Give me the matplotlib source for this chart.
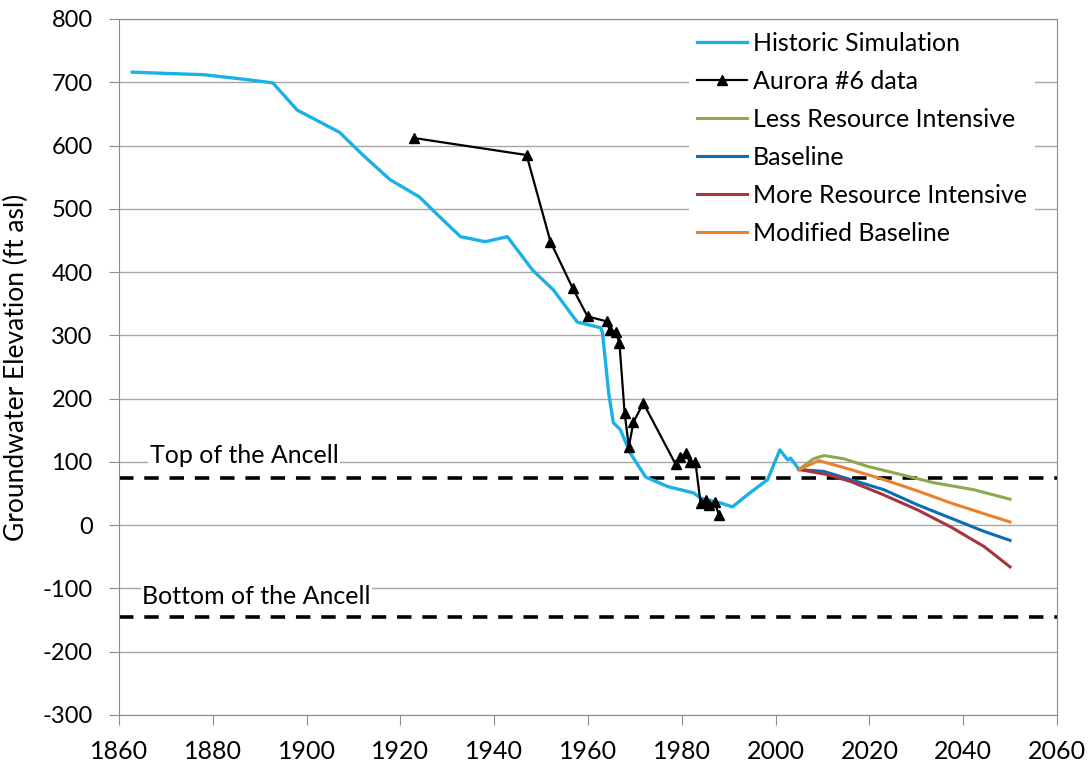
import matplotlib
matplotlib.use("Agg")
import matplotlib.pyplot as plt
import numpy as np

plt.rcParams['font.family'] = ['Lato', 'DejaVu Sans']
plt.rcParams['axes.unicode_minus'] = False

# historic simulation (year, ft asl)
hist_year = [1862.8, 1870, 1878, 1886.4, 1892.8, 1898, 1907, 1912, 1917.8, 1924, 1928,
             1932.8, 1938.1, 1942.8, 1948.2, 1952.6, 1957.7, 1962.7, 1963.1, 1964.4,
             1965.4, 1966.9, 1969, 1972.3, 1977, 1982.5, 1984, 1988.3, 1990.8, 1994,
             1998.3, 2000.9, 2002.6, 2003.2, 2005]
hist_elev = [716, 714, 712, 705, 699, 656, 621, 585, 546, 519, 490,
             456, 448, 456, 403, 372, 321, 312, 304, 209,
             162, 151, 114, 76, 61, 51, 43, 35, 29, 48,
             72, 119, 103, 106, 88]

# Aurora #6 well observations
obs_year = [1922.8, 1946.9, 1952, 1956.7, 1959.9, 1964, 1964.6, 1965.9, 1966.7, 1967.8,
            1968.7, 1969.7, 1971.8, 1978.7, 1979.7, 1980.8, 1981.7, 1982.9, 1984, 1985.1,
            1985.9, 1987, 1987.9]
obs_elev = [612, 585, 448, 375, 330, 322, 309, 306, 288, 178,
            124, 163, 193, 96, 108, 114, 100, 100, 35, 40,
            32, 37, 16]

# future scenarios
less_year = [2005, 2008.1, 2010.3, 2014.5, 2019.6, 2026.7, 2033.8, 2042.3, 2050]
less_elev = [88, 105, 110, 105, 93, 80, 67, 56, 41]
base_year = [2005, 2010.3, 2016, 2023.1, 2030.3, 2037.4, 2044.5, 2050]
base_elev = [88, 85, 72, 56, 32, 11, -10, -24]
more_year = [2005, 2011, 2016, 2023, 2030.3, 2037.4, 2044.5, 2050]
more_elev = [88, 80, 69, 48, 24, -3, -34, -66]
mod_year = [2005, 2009.2, 2016, 2023.1, 2030.3, 2037.4, 2044.5, 2050]
mod_elev = [88, 102, 88, 72, 54, 35, 18, 5]

top_ancell = 75
bottom_ancell = -145

fig = plt.figure(figsize=(10.89, 7.66), dpi=100)
ax = fig.add_axes([0.1093, 0.0666, 0.8613, 0.9086])

ax.plot(hist_year, hist_elev, color='#1BB1E6', lw=2.4, label='Historic Simulation', zorder=3)
ax.plot(obs_year, obs_elev, color='black', lw=1.6, marker='^', ms=7,
        label='Aurora #6 data', zorder=4)
ax.plot(less_year, less_elev, color='#8CA94B', lw=2.2, label='Less Resource Intensive', zorder=3)
ax.plot(base_year, base_elev, color='#0A6DB8', lw=2.2, label='Baseline', zorder=3)
ax.plot(more_year, more_elev, color='#A83440', lw=2.2, label='More Resource Intensive', zorder=3)
ax.plot(mod_year, mod_elev, color='#E8822E', lw=2.2, label='Modified Baseline', zorder=3)

ax.axhline(top_ancell, color='black', lw=2.6, ls=(0, (4, 3)), zorder=2)
ax.axhline(bottom_ancell, color='black', lw=2.6, ls=(0, (4, 3)), zorder=2)
ax.text(1866.6, 110, 'Top of the Ancell', fontsize=18, ha='left', va='center',
        bbox=dict(facecolor='white', edgecolor='none', pad=1), zorder=2)
ax.text(1864.9, -113, 'Bottom of the Ancell', fontsize=18, ha='left', va='center',
        bbox=dict(facecolor='white', edgecolor='none', pad=1), zorder=2)

ax.set_xlim(1860, 2060)
ax.set_ylim(-300, 800)
ax.set_xticks(np.arange(1860, 2061, 20))
ax.set_yticks(np.arange(-300, 801, 100))
ax.yaxis.grid(True, color='#A6A6A6', lw=1)
ax.set_axisbelow(True)
for s in ax.spines.values():
    s.set_color('#8C8C8C')
ax.tick_params(axis='both', direction='out', length=7, color='#8C8C8C')
ax.tick_params(axis='y', labelsize=17, pad=12)
ax.tick_params(axis='x', labelsize=18, pad=11)
ax.set_ylabel('Groundwater Elevation (ft asl)', fontsize=19)
ax.yaxis.set_label_coords(-0.096, 0.5)

leg = ax.legend(loc='upper left', bbox_to_anchor=(0.608, 0.992), fontsize=18,
                frameon=True, fancybox=False, facecolor='white', edgecolor='none',
                framealpha=1, borderaxespad=0, handlelength=2.0, handletextpad=0.25,
                labelspacing=0.6, borderpad=0.3)

fig.savefig('out.png', dpi=100)
